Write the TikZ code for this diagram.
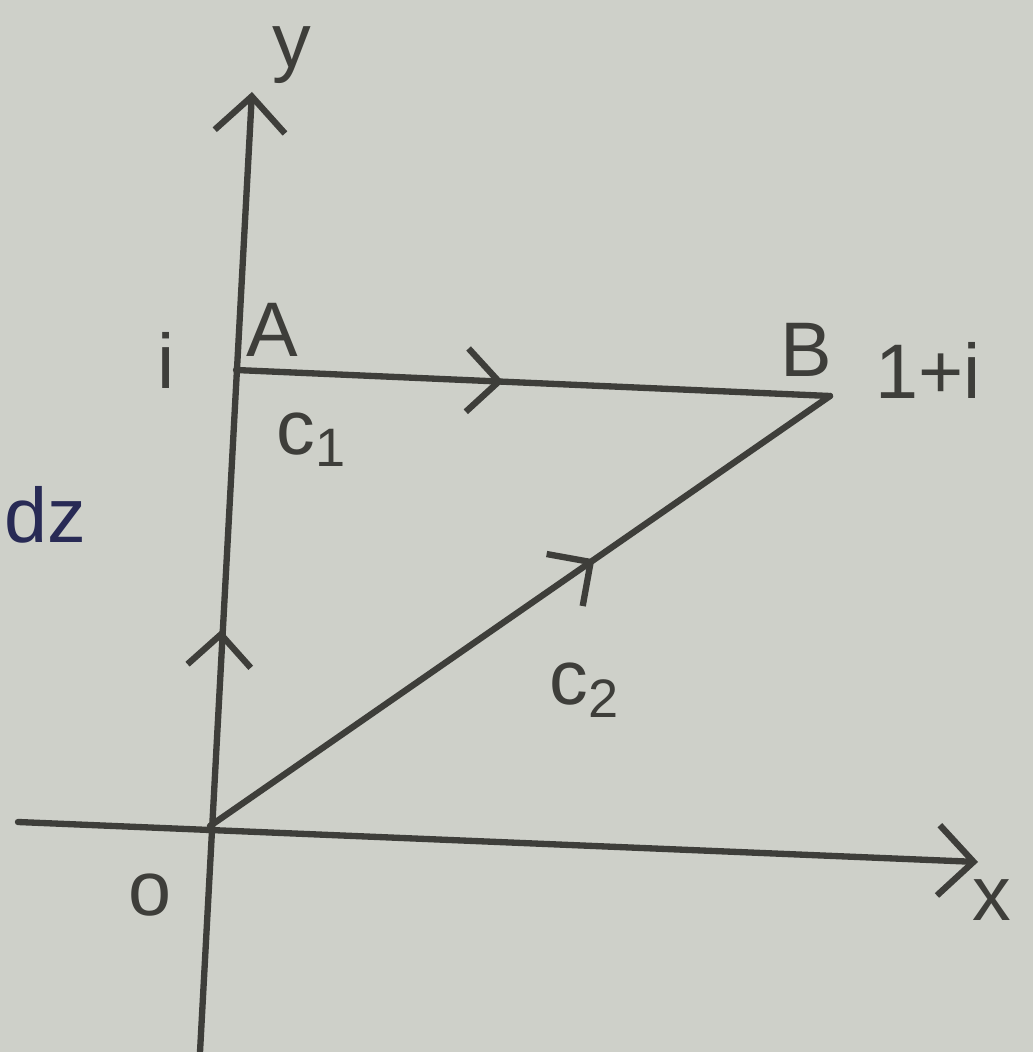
\documentclass[tikz,border=0pt]{standalone}
\usepackage{fontspec}
\setmainfont{Liberation Sans}
\usetikzlibrary{arrows.meta,decorations.markings}
\definecolor{paper}{RGB}{206,208,201}
\definecolor{ink}{RGB}{62,62,58}
\definecolor{blueink}{RGB}{40,42,85}
\tikzset{
  axis/.style={draw=ink, line width=1.8pt, line cap=round, -{Straight Barb[length=10pt,width=20pt,line width=1.8pt]}},
  pathline/.style={draw=ink, line width=1.8pt, line cap=round},
  midarrow/.style={postaction={decorate}, decoration={markings, mark=at position #1 with {\arrow[ink]{Straight Barb[length=9pt,width=18pt,line width=1.8pt]}}}},
  lbl/.style={text=ink, font=\fontsize{22}{26}\selectfont, inner sep=0pt},
}
\begin{document}
\begin{tikzpicture}[x=0.01cm,y=-0.01cm]
\fill[paper] (0,0) rectangle (1033,1052);
\useasboundingbox (0,0) rectangle (1033,1052);
% points
\coordinate (O) at (210,826);
\coordinate (A) at (236,370);
\coordinate (B) at (830,396);
\coordinate (xs) at (18,822);
\coordinate (xe) at (978,862);
\coordinate (ys) at (200,1052);
\coordinate (ye) at (252,92);
% axes
\draw[axis] (xs) -- (xe);
\draw[axis] (ys) -- (ye);
\path[draw=none, midarrow=0.43] (O) -- (A);
% paths
\draw[pathline, midarrow=0.45] (A) -- (B);
\draw[pathline, midarrow=0.62] (O) -- (B);
% labels
\node[lbl] (ylab) at (292,55) {y};
\node[lbl] (xlab) at (992,900) {x};
\node[lbl] (Olab) at (150,895) {o};
\node[lbl] (Alab) at (272,330) {A};
\node[lbl] (Blab) at (806,350) {B};
\node[lbl] (Bval) at (928,370) {1+i};
\node[lbl] (ilab) at (166,360) {i};
\node[lbl] (c1) at (312,440) {c\textsubscript{1}};
\node[lbl] (c2) at (585,690) {c\textsubscript{2}};
\node[lbl, text=blueink] (dz) at (45,515) {dz};
\end{tikzpicture}
\end{document}
